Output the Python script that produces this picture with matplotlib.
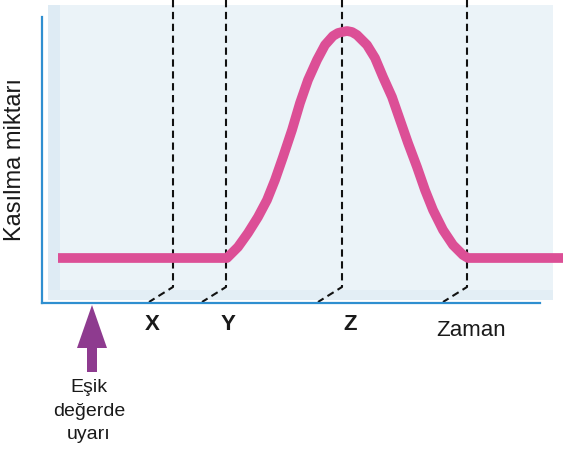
import matplotlib
matplotlib.use("Agg")
import matplotlib.pyplot as plt
from matplotlib.patches import Rectangle, FancyArrow

plt.rcParams["font.family"] = ["Liberation Sans", "DejaVu Sans"]

# curve (time, contraction amount)
time = [16, 185, 196, 206, 216, 225, 233, 241, 250, 258, 266, 275, 283,
        291, 296, 300, 305, 310, 315, 325, 333, 341, 350, 358, 366, 375,
        383, 391, 401, 411, 421, 426, 521]
amount = [45, 45, 56, 70, 86, 103, 123, 146, 173, 200, 223, 243, 258,
          267, 270, 271, 272, 271, 268, 258, 245, 226, 206, 183, 160, 136,
          113, 93, 73, 58, 48, 45, 45]

# phase boundaries (dashed lines) and their labels
boundaries = [131, 184, 300, 425]
phase_labels = ["X", "Y", "Z"]
phase_label_x = [110, 186, 308]

x_label = "Zaman"
y_label = "Kasılma miktarı"
stimulus_text = "Eşik\ndeğerde\nuyarı"
stimulus_x = 50

W, H = 563, 458
fig = plt.figure(figsize=(W / 100, H / 100), dpi=100)
ax = fig.add_axes([42 / W, (H - 303) / H, (W - 42) / W, 303 / H])
ax.set_xlim(0, 521)
ax.set_ylim(0, 303)
ax.set_xticks([])
ax.set_yticks([])
ax.patch.set_visible(False)

# light blue panel behind the plot
ax.add_patch(Rectangle((6, 3), 505, 295, color="#ebf3f8", zorder=0, lw=0))
ax.add_patch(Rectangle((6, 3), 12, 295, color="#deebf4", zorder=0, lw=0))
ax.add_patch(Rectangle((6, 3), 505, 10, color="#e3eef5", zorder=0, lw=0))

for side in ["top", "right"]:
    ax.spines[side].set_visible(False)
ax.spines["left"].set_bounds(0, 286)
ax.spines["bottom"].set_bounds(0, 498)
for side in ["left", "bottom"]:
    ax.spines[side].set_color("#2f8fd0")
    ax.spines[side].set_linewidth(1.6)

# dashed boundaries with the slanted foot
for b in boundaries:
    ax.plot([b, b, b - 24], [303, 16, 1], color="#111111", lw=1.5,
            dashes=(3.5, 2.2), zorder=2, clip_on=False)

ax.plot(time, amount, color="#dc4f96", lw=7, solid_joinstyle="round",
        solid_capstyle="butt", zorder=3, clip_on=False)

for lab, lx in zip(phase_labels, phase_label_x):
    ax.text(lx, -22, lab, ha="center", va="center", fontsize=16,
            fontweight="bold", color="#1a1a1a", clip_on=False)

ax.text(429, -28, x_label, ha="center", va="center", fontsize=16,
        color="#1a1a1a", clip_on=False)
fig.text(15 / W, 1 - 160 / H, y_label, rotation=90, ha="center",
         va="center", fontsize=17, color="#1a1a1a")

ax.add_patch(FancyArrow(stimulus_x, -69, 0, 67, width=10, head_width=30,
                        head_length=43, length_includes_head=True,
                        color="#8e3b8f", lw=0, clip_on=False))
ax.text(stimulus_x - 3, -76, stimulus_text, ha="center", va="top",
        fontsize=14, linespacing=1.5, color="#1a1a1a", clip_on=False)

fig.savefig("out.png", dpi=100, facecolor="white")
